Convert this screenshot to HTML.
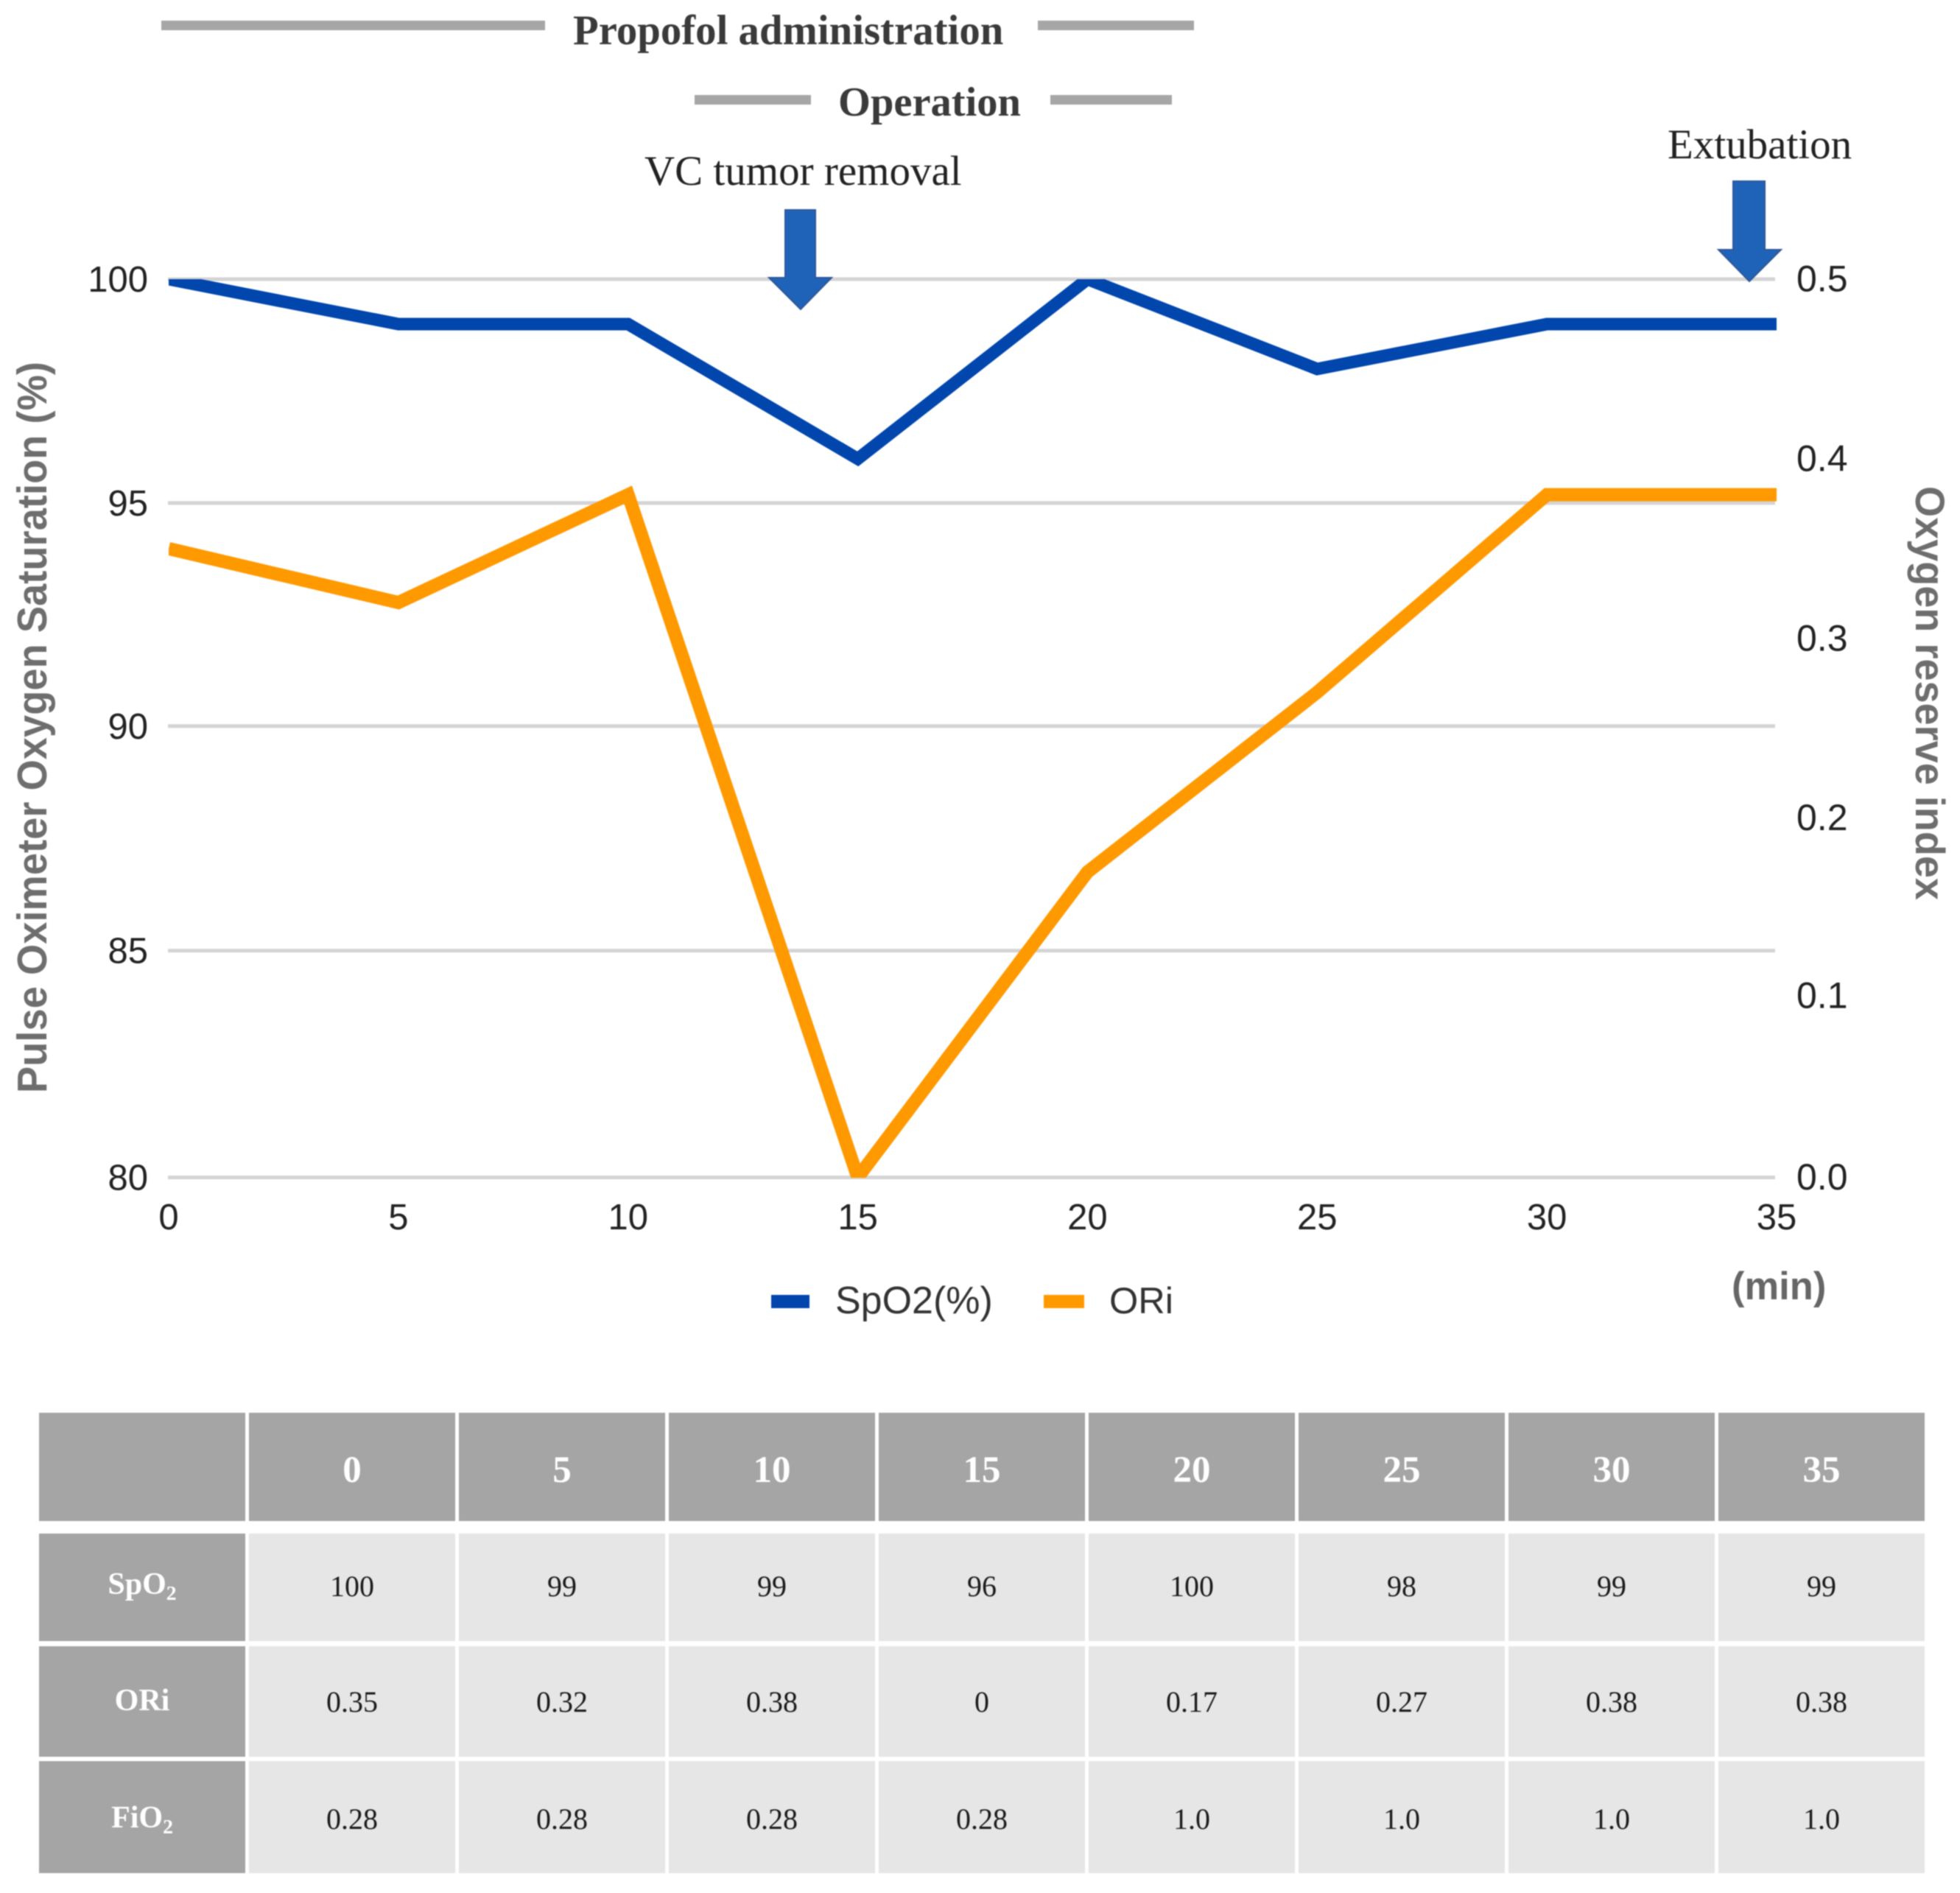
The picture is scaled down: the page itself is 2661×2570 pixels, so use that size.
<!DOCTYPE html>
<html lang="en">
<head>
<meta charset="utf-8">
<title>SpO2 and ORi during propofol administration</title>
<style>
html,body{margin:0;padding:0;background:#fff;}
svg{display:block;filter:blur(0.8px);}
.sans{font-family:"Liberation Sans",Arial,sans-serif;}
.serif{font-family:"Liberation Serif","Times New Roman",serif;}
</style>
</head>
<body>
<svg id="chart" xmlns="http://www.w3.org/2000/svg" width="2661" height="2570" viewBox="0 0 2661 2570">
  <rect x="0" y="0" width="2661" height="2570" fill="#ffffff"/>

  <g>
    <rect x="219" y="28" width="521" height="13" fill="#a6a6a6"/>
    <text class="serif" x="778" y="60" font-size="56.8" font-weight="700" fill="#3a3a3a">Propofol administration</text>
    <rect x="1409" y="28" width="212" height="13" fill="#a6a6a6"/>
  </g>
  <g>
    <rect x="943" y="129" width="158" height="13" fill="#a6a6a6"/>
    <text class="serif" x="1138" y="157" font-size="56.5" font-weight="700" fill="#3a3a3a">Operation</text>
    <rect x="1426" y="129" width="165" height="13" fill="#a6a6a6"/>
  </g>

  <g id="grid"></g>
  <defs>
    <clipPath id="plot-clip"><rect x="229" y="379" width="2183" height="1220"/></clipPath>
  </defs>
  <g id="series" clip-path="url(#plot-clip)"></g>
  <g id="ticks"></g>

  <g>
    <text class="serif" x="875" y="251" font-size="57" fill="#222222">VC tumor removal</text>
    <polygon points="1066,285 1107,285 1107,377 1129,377 1087,420 1044,377 1066,377" fill="#1f63b8" stroke="#2f5597" stroke-width="2"/>
  </g>
  <g>
    <text class="serif" x="2264" y="215" font-size="57" fill="#222222">Extubation</text>
    <polygon points="2353,246 2396,246 2396,339 2418,339 2375,382 2333,339 2353,339" fill="#1f63b8" stroke="#2f5597" stroke-width="2"/>
  </g>

  <text class="sans" transform="translate(63,1484) rotate(-90)" font-size="57" font-weight="700" fill="#6e6e6e" textLength="993" lengthAdjust="spacingAndGlyphs">Pulse Oximeter Oxygen Saturation (%)</text>
  <text class="sans" transform="translate(2601,660) rotate(90)" font-size="56" font-weight="700" fill="#6e6e6e" textLength="562" lengthAdjust="spacingAndGlyphs">Oxygen reserve index</text>
  <text class="sans" x="2351" y="1764" font-size="52.5" font-weight="700" fill="#666666">(min)</text>

  <g>
    <rect x="1047" y="1758" width="52" height="18" fill="#0046ad"/>
    <text class="sans" x="1134" y="1783" font-size="52" fill="#333333">SpO2(%)</text>
    <rect x="1417" y="1758" width="55" height="18" fill="#ff9900"/>
    <text class="sans" x="1506" y="1783" font-size="50.5" fill="#333333">ORi</text>
  </g>

  <g id="table"></g>
</svg>
<script>
var minutes = [0, 5, 10, 15, 20, 25, 30, 35];
var spo2Values = [100, 99, 99, 96, 100, 98, 99, 99];
var oriValues = [0.35, 0.32, 0.38, 0, 0.17, 0.27, 0.38, 0.38];
var fio2Values = ['0.28', '0.28', '0.28', '0.28', '1.0', '1.0', '1.0', '1.0'];
var leftTicks = [80, 85, 90, 95, 100];
var rightTickLabels = ['0.0', '0.1', '0.2', '0.3', '0.4', '0.5'];
var rightTicks = [0, 0.1, 0.2, 0.3, 0.4, 0.5];

var SVGNS = 'http://www.w3.org/2000/svg';
function xScale(m) { return 229 + (m - 0) * (2412 - 229) / 35; }
function yLeft(v) { return 1598.5 - (v - 80) * (1598.5 - 379) / 20; }
function yRight(v) { return 1598.5 - v * (1598.5 - 379) / 0.5; }
/* The source artwork's interior gridlines sit slightly above the true scale positions. */
function gridNudge(t) { return (t === 80 || t === 100) ? 0 : (t === 95 ? -1 : -3); }
function make(tag, parent, attrs, txt) {
  var e = document.createElementNS(SVGNS, tag);
  for (var k in attrs) { e.setAttribute(k, attrs[k]); }
  if (txt !== undefined) { e.textContent = txt; }
  parent.appendChild(e);
  return e;
}

var grid = document.getElementById('grid');
var series = document.getElementById('series');
var ticks = document.getElementById('ticks');
var table = document.getElementById('table');

leftTicks.forEach(function (t) {
  var line = make('rect', grid, { x: 228, y: yLeft(t) + gridNudge(t) - 2.5, width: 2182, height: 5, fill: '#d4d4d4' });
  
  
  var lab = make('text', ticks, { x: 201, y: yLeft(t) + gridNudge(t) + 17, 'text-anchor': 'end', 'font-size': 49, fill: '#222222', 'class': 'sans' }, String(t));
  
  
});

rightTicks.forEach(function (t, i) {
  var lab = make('text', ticks, { x: 2439, y: yRight(t) + (t === 0.1 ? 14 : 16.5), 'font-size': 50, fill: '#222222', 'class': 'sans' }, rightTickLabels[i]);
  
  
});

minutes.forEach(function (m) {
  var lab = make('text', ticks, { x: xScale(m), y: 1669, 'text-anchor': 'middle', 'font-size': 49, fill: '#222222', 'class': 'sans' }, String(m));
  
  
});

var oriPoints = minutes.map(function (m, i) { return xScale(m) + ',' + yRight(oriValues[i]); }).join(' ');
var oriLine = make('polyline', series, { points: oriPoints, fill: 'none', stroke: '#ff9900', 'stroke-width': 18, 'stroke-linejoin': 'miter', 'stroke-miterlimit': 6 });



var spo2Points = minutes.map(function (m, i) { return xScale(m) + ',' + yLeft(spo2Values[i]); }).join(' ');
var spo2Line = make('polyline', series, { points: spo2Points, fill: 'none', stroke: '#0046ad', 'stroke-width': 17, 'stroke-linejoin': 'miter', 'stroke-miterlimit': 6 });



function colLeft(c) { return c === 0 ? 53 : 338 + (c - 1) * 285; }
function colWidth(c) { return 280; }
function colCenter(c) { return colLeft(c) + colWidth(c) / 2; }
var rowTops = [1918, 2082, 2235, 2391];
var rowHeights = [147, 146, 150, 152];
var rowBaselines = [2012, 2167, 2324, 2483];
var labelBaselines = [2012, 2164, 2322, 2481];

function cell(c, r, fillColor) {
  var box = make('rect', table, { x: colLeft(c), y: rowTops[r], width: colWidth(c), height: rowHeights[r], fill: fillColor });
  
  
}
function cellText(c, r, str, size, bold, color, sub, base) {
  var t = make('text', table, { x: colCenter(c), y: base, 'text-anchor': 'middle', 'font-size': size, 'font-weight': bold ? 700 : 400, fill: color, 'class': 'serif' }, str);
  
  
  if (sub) { make('tspan', t, { dy: 8, 'font-size': size * 0.66 }, sub); }
}

for (var c = 0; c <= minutes.length; c++) {
  cell(c, 0, '#a5a5a5');
  if (c > 0) { cellText(c, 0, String(minutes[c - 1]), 51, true, '#ffffff', null, rowBaselines[0]); }
}
for (var r = 1; r <= 3; r++) {
  cell(0, r, '#a5a5a5');
  for (var d = 1; d <= minutes.length; d++) { cell(d, r, '#e6e6e6'); }
}
cellText(0, 1, 'SpO', 42, true, '#ffffff', '2', labelBaselines[1]);
cellText(0, 2, 'ORi', 42, true, '#ffffff', null, labelBaselines[2]);
cellText(0, 3, 'FiO', 42, true, '#ffffff', '2', labelBaselines[3]);
minutes.forEach(function (m, i) {
  cellText(i + 1, 1, String(spo2Values[i]), 40, false, '#1a1a1a', null, rowBaselines[1]);
  cellText(i + 1, 2, String(oriValues[i]), 40, false, '#1a1a1a', null, rowBaselines[2]);
  cellText(i + 1, 3, fio2Values[i], 40, false, '#1a1a1a', null, rowBaselines[3]);
});
</script>
</body>
</html>
